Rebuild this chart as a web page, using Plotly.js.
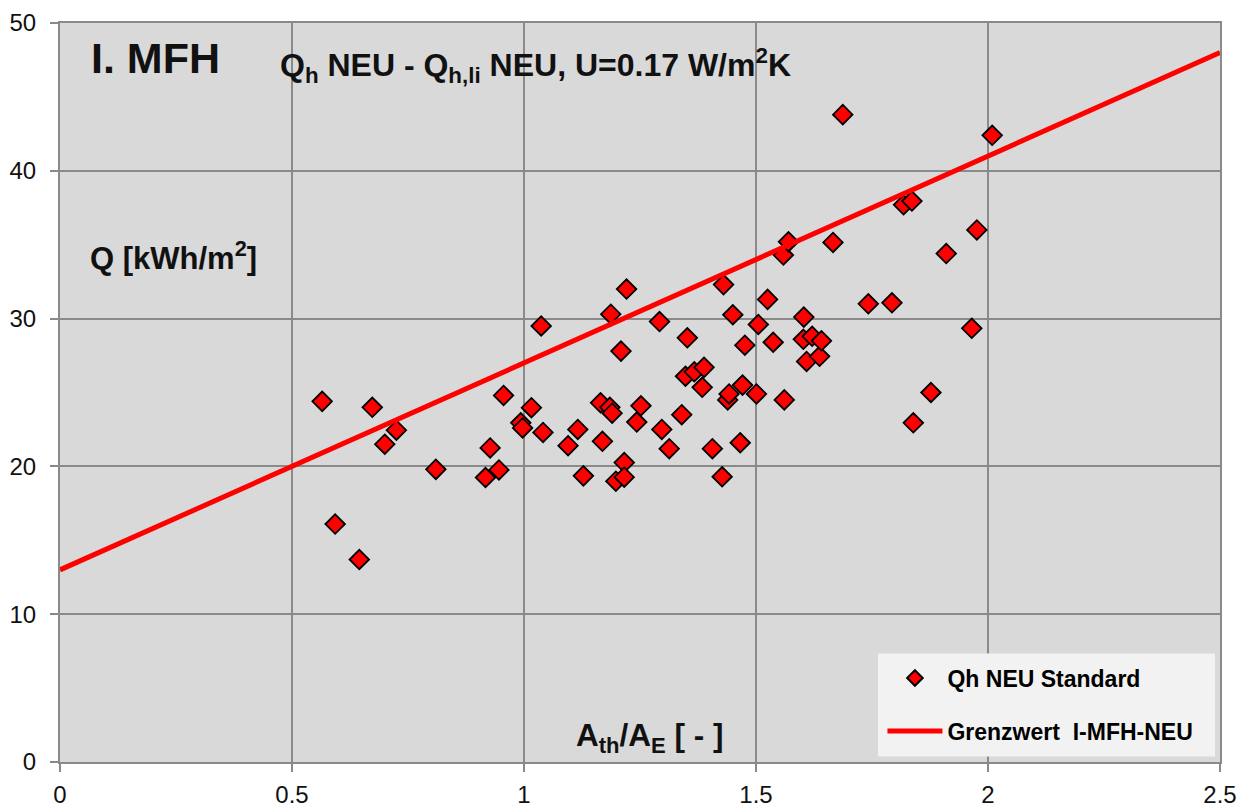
<!DOCTYPE html>
<html>
<head>
<meta charset="utf-8">
<script src="https://cdn.plot.ly/plotly-3.0.1.min.js"></script>
<style>html,body{margin:0;padding:0;background:#fff;}#chart{width:1247px;height:808px;}</style>
</head>
<body>
<div id="chart"></div>
<script>
// Qh NEU Standard: A_th/A_E vs Q [kWh/m2]
var ratioAthAE = [0.565,0.593,0.645,0.673,0.700,0.725,0.810,0.917,0.927,0.946,
  0.956,0.993,0.997,1.016,1.037,1.041,1.095,1.116,1.128,1.165,
  1.169,1.185,1.190,1.187,1.198,1.209,1.216,1.216,1.221,1.243,
  1.252,1.292,1.297,1.313,1.340,1.348,1.352,1.367,1.384,1.388,
  1.406,1.427,1.430,1.439,1.442,1.450,1.466,1.471,1.476,1.501,
  1.505,1.525,1.537,1.559,1.561,1.570,1.602,1.603,1.609,1.621,
  1.637,1.641,1.666,1.687,1.742,1.793,1.818,1.836,1.839,1.877,
  1.910,1.965,1.976,2.009];
var qhNeu = [24.4,16.1,13.7,24.0,21.5,22.45,19.8,19.25,21.25,19.76,
  24.8,22.95,22.6,23.97,29.5,22.3,21.4,22.5,19.36,24.3,
  21.7,24.0,23.6,30.3,19.0,27.8,20.26,19.27,32.0,23.0,
  24.1,29.8,22.5,21.2,23.5,26.1,28.7,26.4,25.35,26.7,
  21.2,19.3,32.3,24.5,24.9,30.26,21.6,25.5,28.2,24.9,
  29.6,31.3,28.4,34.3,24.5,35.2,28.6,30.1,27.1,28.8,
  27.45,28.5,35.15,43.8,31.0,31.07,37.7,37.95,22.95,25.0,
  34.4,29.34,36.0,42.4];
// Grenzwert I-MFH-NEU line
var grenzX = [0, 2.5];
var grenzY = [13, 48];

var xTicks = [0, 0.5, 1, 1.5, 2, 2.5];
var xTickText = ['0', '0.5', '1', '1.5', '2', '2.5'];
var yTicks = [0, 10, 20, 30, 40, 50];

var fontFam = 'Liberation Sans, Arial, sans-serif';

var traces = [
  {
    x: ratioAthAE, y: qhNeu, type: 'scatter', mode: 'markers',
    name: '<b>Qh NEU Standard</b>', legendgroup: 'a',
    marker: {symbol: 'diamond', size: 15, color: '#ff0000', line: {color: '#000000', width: 1.8}}
  },
  {
    x: grenzX, y: grenzY, type: 'scatter', mode: 'lines',
    name: '<b>Grenzwert&nbsp; I-MFH-NEU</b>', legendgroup: 'b',
    line: {color: '#ff0000', width: 5}
  }
];

var layout = {
  width: 1247, height: 808,
  margin: {l: 60, r: 27, t: 23, b: 46, pad: 0},
  paper_bgcolor: '#ffffff',
  plot_bgcolor: '#d9d9d9',
  font: {family: fontFam, size: 24, color: '#111111'},
  showlegend: true,
  legend: {
    x: 0.709, y: 0.1427, xanchor: 'left', yanchor: 'top',
    bgcolor: 'rgba(0,0,0,0)', borderwidth: 0,
    font: {family: fontFam, size: 23, color: '#000000'},
    itemwidth: 55, tracegroupgap: 20, itemsizing: 'constant',
    traceorder: 'grouped'
  },
  shapes: [
    {type: 'rect', xref: 'paper', yref: 'paper', x0: 0.7052, x1: 0.9957, y0: 0.0074, y1: 0.1467,
     fillcolor: '#f2f2f2', line: {width: 0}, layer: 'above'}
  ],
  xaxis: {
    range: [0, 2.5], tickvals: xTicks, ticktext: xTickText,
    showgrid: true, gridcolor: '#8a8a8a', gridwidth: 2,
    zeroline: false, showline: true, linecolor: '#8a8a8a', linewidth: 2, mirror: true,
    ticks: 'outside', ticklen: 8, tickcolor: '#8a8a8a', tickwidth: 2,
    ticklabelstandoff: 2,
    tickfont: {family: fontFam, size: 24, color: '#111111'}
  },
  yaxis: {
    range: [0, 50], tickvals: yTicks,
    showgrid: true, gridcolor: '#8a8a8a', gridwidth: 2,
    zeroline: false, showline: true, linecolor: '#8a8a8a', linewidth: 2, mirror: true,
    ticks: 'outside', ticklen: 8, tickcolor: '#8a8a8a', tickwidth: 2,
    ticklabelstandoff: 9,
    tickfont: {family: fontFam, size: 24, color: '#111111'}
  },
  annotations: [
    {text: '<b>I. MFH</b>', xref: 'paper', yref: 'paper', x: 0.025, y: 0.953,
     xanchor: 'left', yanchor: 'middle', showarrow: false,
     font: {family: fontFam, size: 43, color: '#111111'}},
    {text: '<b>Q<sub>h</sub> NEU - Q<sub>h,li</sub> NEU, U=0.17 W/m<sup>2</sup>K</b>', xref: 'paper', yref: 'paper', x: 0.188, y: 0.942,
     xanchor: 'left', yanchor: 'middle', showarrow: false,
     font: {family: fontFam, size: 32, color: '#111111'}},
    {text: '<b>Q [kWh/m<sup>2</sup>]</b>', xref: 'paper', yref: 'paper', x: 0.024, y: 0.685,
     xanchor: 'left', yanchor: 'middle', showarrow: false,
     font: {family: fontFam, size: 31, color: '#111111'}},
    {text: '<b>A<sub>th</sub>/A<sub>E</sub> [ - ]</b>', xref: 'paper', yref: 'paper', x: 0.443, y: 0.033,
     xanchor: 'left', yanchor: 'middle', showarrow: false,
     font: {family: fontFam, size: 31.5, color: '#111111'}}
  ]
};

Plotly.newPlot('chart', traces, layout, {displayModeBar: false, staticPlot: true});
</script>
</body>
</html>
